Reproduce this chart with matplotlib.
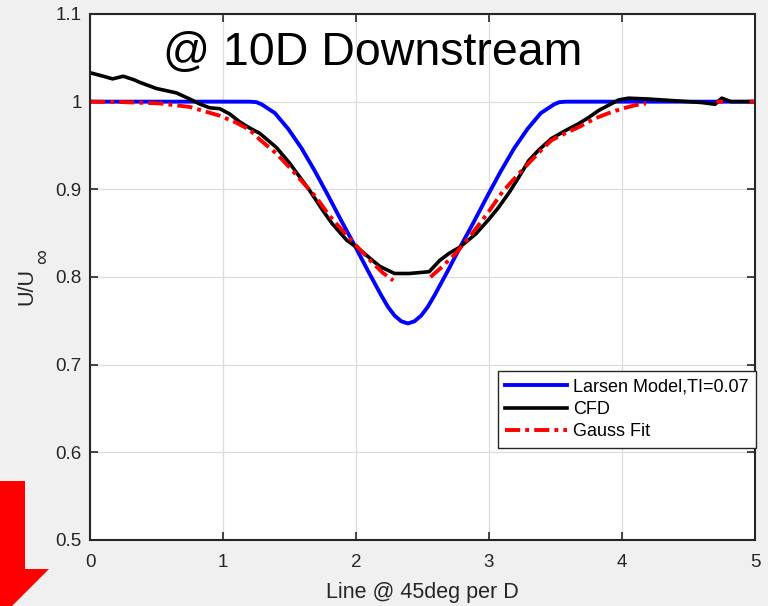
import numpy as np
import matplotlib
matplotlib.use('Agg')
import matplotlib.pyplot as plt
from matplotlib.patches import Polygon

plt.rcParams['font.family'] = ['Liberation Sans', 'DejaVu Sans']

# Larsen model
larsen_x = [0, 1.20, 1.25, 1.29, 1.39, 1.49, 1.59, 1.69, 1.79, 1.89, 1.99, 2.09, 2.14, 2.19, 2.24,
            2.29, 2.34, 2.39, 2.44, 2.49, 2.54, 2.59, 2.64, 2.69, 2.79, 2.89, 2.99, 3.09, 3.19,
            3.29, 3.39, 3.49, 3.53, 3.58, 5.0]
larsen_y = [1.0, 1.0, 0.9995, 0.997, 0.987, 0.969, 0.947, 0.921, 0.893, 0.864, 0.836, 0.807, 0.793,
            0.779, 0.766, 0.756, 0.7495, 0.747, 0.7495, 0.756, 0.766, 0.779, 0.793, 0.807, 0.836,
            0.864, 0.893, 0.921, 0.947, 0.969, 0.987, 0.997, 0.9995, 1.0, 1.0]

# CFD
cfd_x = [0, 0.1, 0.17, 0.25, 0.33, 0.375, 0.5, 0.65, 0.75, 0.83, 0.9, 0.975, 1.05, 1.125, 1.2,
         1.275, 1.4, 1.5, 1.65, 1.75, 1.82, 1.93, 2.03, 2.1, 2.18, 2.29, 2.4, 2.55, 2.63, 2.7,
         2.78, 2.9, 3.0, 3.07, 3.15, 3.225, 3.3, 3.375, 3.47, 3.575, 3.675, 3.75, 3.825, 3.9,
         3.975, 4.05, 4.2, 4.4, 4.6, 4.7, 4.75, 4.82, 4.9, 5.0]
cfd_y = [1.033, 1.029, 1.026, 1.029, 1.025, 1.022, 1.015, 1.010, 1.003, 0.997, 0.993, 0.992, 0.986,
         0.977, 0.970, 0.964, 0.948, 0.930, 0.899, 0.876, 0.861, 0.842, 0.831, 0.822, 0.812, 0.804,
         0.804, 0.806, 0.819, 0.827, 0.834, 0.849, 0.866, 0.879, 0.896, 0.914, 0.933, 0.945, 0.958,
         0.967, 0.975, 0.982, 0.990, 0.996, 1.002, 1.004, 1.003, 1.001, 0.999, 0.997, 1.004, 1.000,
         1.0, 1.0]

# Gauss fit
gauss_x = [0, 0.25, 0.525, 0.75, 0.975, 1.1, 1.2, 1.275, 1.4, 1.5, 1.6, 1.7, 1.8, 1.875, 2.0,
           2.125, 2.2, 2.28, np.nan, 2.56, 2.65, 2.75, 2.85, 3.0, 3.1, 3.225, 3.375, 3.47, 3.575,
           3.675, 3.8, 3.9, 4.0, 4.1, 4.18, np.nan, 4.71, 4.76, np.nan, 4.96, 5.0]
gauss_y = [1.0, 0.9995, 0.998, 0.994, 0.984, 0.976, 0.968, 0.957, 0.941, 0.925, 0.908, 0.891, 0.870,
           0.857, 0.836, 0.816, 0.805, 0.796, np.nan, 0.800, 0.812, 0.827, 0.845, 0.875, 0.897, 0.918,
           0.942, 0.956, 0.964, 0.971, 0.981, 0.987, 0.992, 0.996, 0.998, np.nan, 1.0, 1.0, np.nan,
           1.0, 1.0]

xticks = [0, 1, 2, 3, 4, 5]
yticks = [0.5, 0.6, 0.7, 0.8, 0.9, 1.0, 1.1]
ytick_labels = ['0.5', '0.6', '0.7', '0.8', '0.9', '1', '1.1']

W, H = 768, 606
fig = plt.figure(figsize=(W/100, H/100), dpi=100, facecolor='#f0f0f0')
ax = fig.add_axes([90/W, 1-540/H, 665/W, 526/H])

ax.plot(larsen_x, larsen_y, color='#0000ff', lw=2.8, label='Larsen Model,TI=0.07')
ax.plot(cfd_x, cfd_y, color='black', lw=2.6, label='CFD')
ax.plot(gauss_x, gauss_y, color='#ff0000', lw=2.8, ls=(0, (3.9, 1.3, 1.0, 1.3)), label='Gauss Fit')

ax.set_xlim(0, 5)
ax.set_ylim(0.5, 1.1)
ax.set_xticks(xticks)
ax.set_xticklabels([str(t) for t in xticks])
ax.set_yticks(yticks)
ax.set_yticklabels(ytick_labels)
ax.grid(True, color='#dcdcdc', lw=0.9)
ax.set_axisbelow(True)
ax.tick_params(direction='in', length=5.5, width=1.2, top=True, right=True,
               labelsize=13.5, colors='#262626')
ax.tick_params(axis='y', pad=6)
ax.tick_params(axis='x', pad=10)
for s in ax.spines.values():
    s.set_color('#262626')
    s.set_linewidth(1.5)

ax.set_xlabel('Line @ 45deg per D', fontsize=15.5, color='#262626', labelpad=8)

# y label: U/U with a full-size infinity subscript
fig.text(27/W, 1-286/H, 'U/U', rotation=90, fontsize=15.5, color='#262626',
         ha='center', va='center')
fig.text(43/W, 1-257/H, '\u221e', rotation=90, fontsize=15, color='#262626',
         ha='center', va='center')

ax.text(0.55, 1.042, '@ 10D Downstream', fontsize=33.5, va='baseline', ha='left')

leg = ax.legend(loc='upper right', bbox_to_anchor=(1.0015, 0.3216), borderaxespad=0,
                fontsize=13, handlelength=3.4, fancybox=False, framealpha=1,
                edgecolor='#262626', borderpad=0.42, labelspacing=0.3, handletextpad=0.35)
leg.get_frame().set_linewidth(1.0)

# red arrow at bottom left
arrow_px = [(-25, 481), (25, 481), (25, 569), (49, 569), (0, 618), (-49, 569), (-25, 569)]
arrow = Polygon([(x/W, 1-y/H) for x, y in arrow_px], closed=True, transform=fig.transFigure,
                facecolor='#ff0000', edgecolor='none', clip_on=False)
fig.patches.append(arrow)

fig.savefig('out.png', dpi=100, facecolor=fig.get_facecolor())
